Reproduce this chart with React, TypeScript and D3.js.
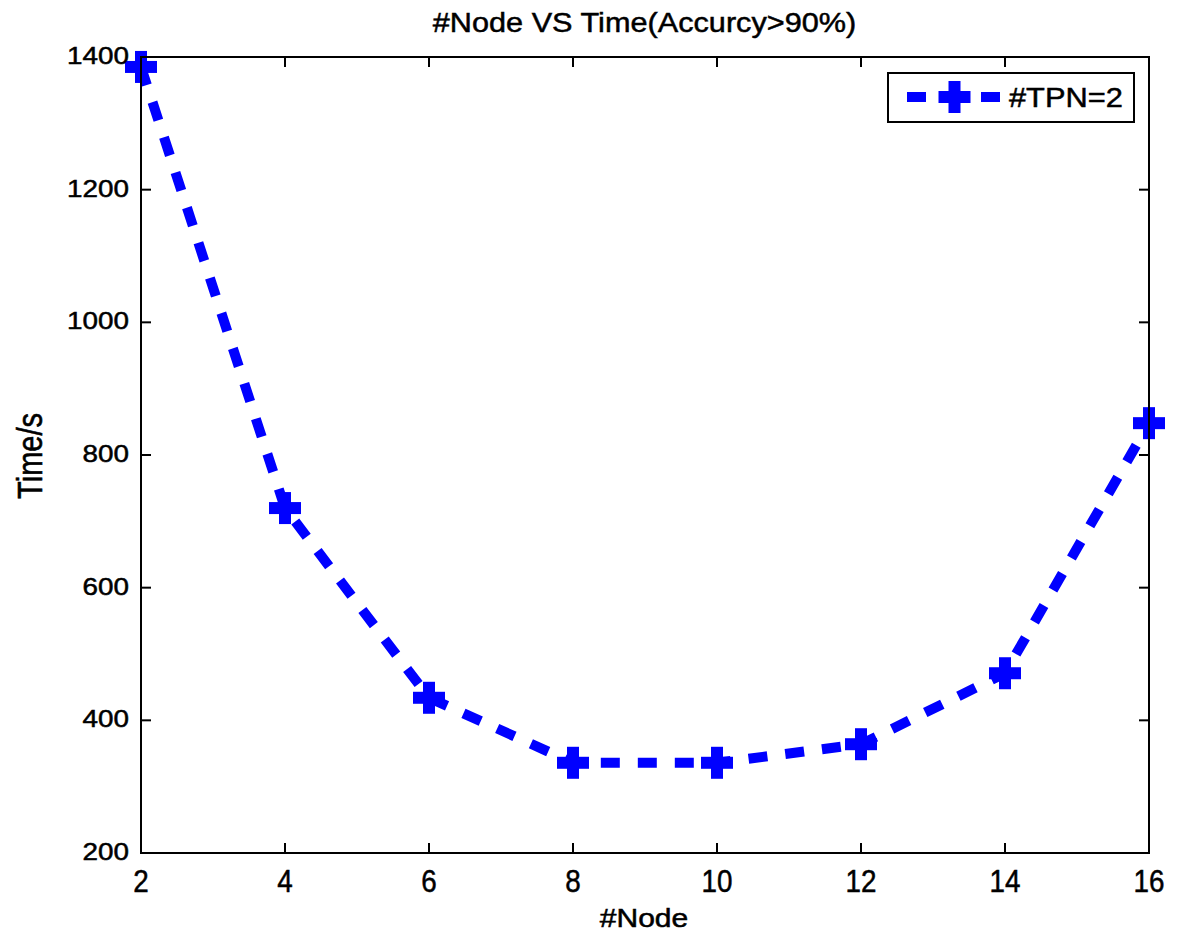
import React from "react";
import * as d3 from "d3";

const nodes = [2, 4, 6, 8, 10, 12, 14, 16];
const times = [1385, 720, 434, 336, 336, 364, 471, 848];
const xTicks = [2, 4, 6, 8, 10, 12, 14, 16];
const yTicks = [200, 400, 600, 800, 1000, 1200, 1400];
const seriesLabel = "#TPN=2";
const title = "#Node VS Time(Accurcy>90%)";
const xLabel = "#Node";
const yLabel = "Time/s";

const W = 1184, H = 932;
const L = 141, R = 1149, T = 57, B = 853;
const font = "Arial, 'Liberation Sans', Helvetica, sans-serif";

function Plus({ x, y }: { x: number; y: number }) {
  const a = 16, t = 6;
  return (
    <g fill="#0000ff">
      <rect x={x - a} y={y - t} width={2 * a} height={2 * t} />
      <rect x={x - t} y={y - a} width={2 * t} height={2 * a} />
    </g>
  );
}

export default function App() {
  const x = d3.scaleLinear().domain([2, 16]).range([L, R]);
  const y = d3.scaleLinear().domain([200, 1400]).range([B, T]);
  const line = d3.line<number>().x((_, i) => x(nodes[i])).y((d) => y(d));
  const tl = 10;
  return (
    <svg width={W} height={H} style={{ position: "absolute", left: 0, top: 0 }}>
      <rect width={W} height={H} fill="#fff" />
      <path d={line(times) || ""} fill="none" stroke="#0000ff" strokeWidth={10} strokeDasharray="19,18" />
      {nodes.map((n, i) => (
        <Plus key={n} x={x(n)} y={y(times[i])} />
      ))}
      <g stroke="#000" strokeWidth={2} fill="none">
        <rect x={L} y={T} width={R - L} height={B - T} />
        {xTicks.map((t) => (
          <g key={"x" + t}>
            <line x1={x(t)} x2={x(t)} y1={B} y2={B - tl} />
            <line x1={x(t)} x2={x(t)} y1={T} y2={T + tl} />
          </g>
        ))}
        {yTicks.map((t) => (
          <g key={"y" + t}>
            <line x1={L} x2={L + tl} y1={y(t)} y2={y(t)} />
            <line x1={R} x2={R - tl} y1={y(t)} y2={y(t)} />
          </g>
        ))}
      </g>
      <g fontFamily={font} fill="#000" stroke="#000" strokeWidth={0.5}>
        {xTicks.map((t) => (
          <text key={"xl" + t} transform={`translate(${x(t)},892) scale(0.87,1)`} fontSize={32} textAnchor="middle">{t}</text>
        ))}
        {yTicks.map((t) => (
          <text key={"yl" + t} transform={`translate(${L - 12},${y(t) + 7}) scale(1.16,1)`} fontSize={24} textAnchor="end">{t}</text>
        ))}
        <text transform="translate(644.5,32) scale(1.095,1)" textAnchor="middle" fontSize={28}>{title}</text>
        <text transform="translate(644,927) scale(1.2,1)" textAnchor="middle" fontSize={25}>{xLabel}</text>
        <text transform="translate(42,456) rotate(-90) scale(1,1.2)" textAnchor="middle" fontSize={29}>{yLabel}</text>
      </g>
      <g>
        <rect x={888} y={73} width={246} height={49} fill="#fff" stroke="#000" strokeWidth={2} />
        <line x1={907} x2={1001} y1={97} y2={97} stroke="#0000ff" strokeWidth={10} strokeDasharray="19,18" />
        <Plus x={954.5} y={97} />
        <text transform="translate(1009,107) scale(1.1,1)" fontFamily={font} fontSize={28} fill="#000" stroke="#000" strokeWidth={0.5}>{seriesLabel}</text>
      </g>
    </svg>
  );
}
